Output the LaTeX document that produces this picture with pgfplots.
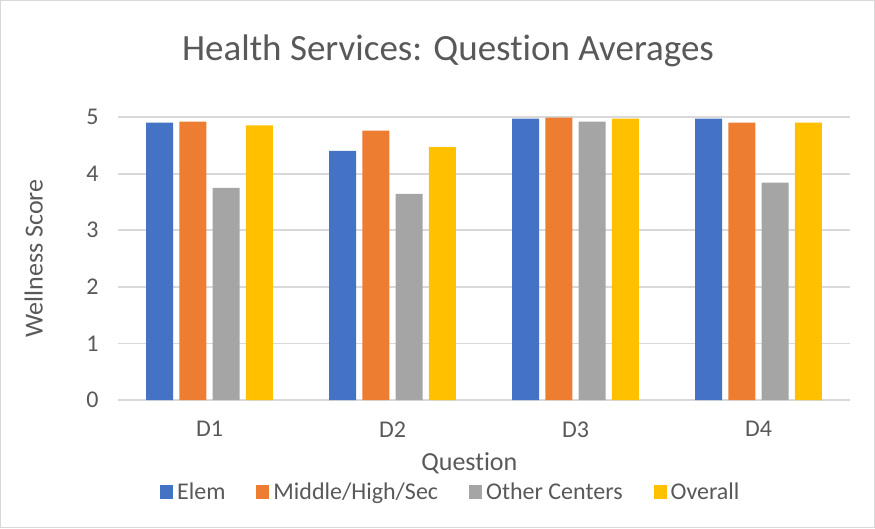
\documentclass[border=0pt]{standalone}
\usepackage{pgfplots}
\pgfplotsset{compat=1.18}
\usepackage{fontspec}
\setmainfont{Carlito}[Ligatures=NoCommon]
\definecolor{cblue}{HTML}{4472C4}
\definecolor{corange}{HTML}{ED7D31}
\definecolor{cgray}{HTML}{A5A5A5}
\definecolor{cyellow}{HTML}{FFC000}
\definecolor{cgrid}{HTML}{D9D9D9}
\definecolor{ctext}{HTML}{595959}
\begin{document}
\begin{tikzpicture}[x=1pt,y=1pt]
\useasboundingbox (0,0) rectangle (875,528);
\fill[white] (0,0) rectangle (875,528);
\draw[cgrid,line width=1pt] (0.5,0.5) rectangle (874.5,527.5);
\node[text=ctext,font=\fontsize{37}{40}\selectfont] at (448,477) {Health Services: Question Averages};
\begin{axis}[
  at={(118pt,128pt)}, anchor=south west,
  scale only axis, width=732pt, height=283pt,
  ybar=6.3pt, bar width=27pt,
  xmin=-0.5, xmax=3.5, ymin=0, ymax=5,
  xtick=data, xticklabels={D1,D2,D3,D4},
  ytick={0,1,2,3,4,5},
  /pgf/number format/assume math mode=true,
  ymajorgrids, grid style={cgrid,line width=1.8pt},
  axis x line*=bottom, axis y line*=left,
  x axis line style={cgrid,line width=1.8pt,-},
  y axis line style={draw=none},
  major tick length=0pt,
  tick label style={text=ctext,font=\fontsize{24}{26}\selectfont},
  xticklabel style={yshift=-18pt},
  yticklabel style={xshift=-16pt},
  xlabel={Question}, ylabel={Wellness Score},
  label style={text=ctext,font=\fontsize{26}{28}\selectfont},
  xlabel style={at={(axis description cs:0.480,-0.222)},anchor=center},
  ylabel style={at={(axis description cs:-0.115,0.5)},anchor=center},
  legend columns=4,
  legend style={draw=none,fill=none,at={(axis description cs:0.456,-0.325)},anchor=center,
    font=\fontsize{24}{26}\selectfont,text=ctext,
    /tikz/every even column/.append style={column sep=27pt},
    /tikz/every odd column/.append style={column sep=0pt},
    nodes={inner xsep=4pt}},
  legend image code/.code={\fill[#1] (0pt,-7pt) rectangle (13pt,7pt);},
]
\addplot[fill=cblue,draw=none] coordinates {(0,4.90) (1,4.40) (2,4.97) (3,4.97)};
\addplot[fill=corange,draw=none] coordinates {(0,4.92) (1,4.76) (2,4.99) (3,4.90)};
\addplot[fill=cgray,draw=none] coordinates {(0,3.75) (1,3.64) (2,4.92) (3,3.84)};
\addplot[fill=cyellow,draw=none] coordinates {(0,4.85) (1,4.47) (2,4.97) (3,4.90)};
\legend{Elem,Middle/High/Sec,Other Centers,Overall}
\end{axis}
\end{tikzpicture}
\end{document}
